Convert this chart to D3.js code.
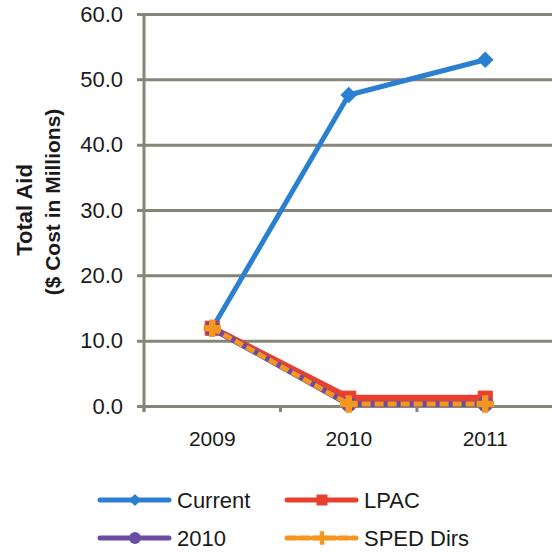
<!DOCTYPE html>
<html>
<head>
<meta charset="utf-8">
<script src="https://cdn.jsdelivr.net/npm/d3@7"></script>
<style>
  body { margin: 0; background: #fff; }
  text { font-family: "Liberation Sans", Arial, sans-serif; fill: #1a1a1a; }
</style>
</head>
<body>
<div id="chart"></div>
<script>
var years = ["2009", "2010", "2011"];
var seriesNames = ["Current", "LPAC", "2010", "SPED Dirs"];
var currentVals = [11.9, 47.6, 53.0];
var lpacVals = [11.9, 1.2, 1.2];
var y2010Vals = [11.9, 0.3, 0.3];
var spedVals = [11.9, 0.3, 0.3];
var yTicks = [0, 10, 20, 30, 40, 50, 60];

var width = 552, height = 552;
var margin = { top: 14, left: 144, bottom: 146 };

var svg = d3.select('#chart')
  .append('svg')
    .attr('width', width)
    .attr('height', height);

var x = d3.scaleBand()
  .domain(years)
  .range([margin.left, 553.5]);

var y = d3.scaleLinear()
  .domain([0, 60])
  .range([height - margin.bottom, margin.top]);

var gridColor = "#85857a";

// gridlines + y ticks
var yAxis = d3.axisLeft(y)
  .tickValues(yTicks)
  .tickSize(-(width - margin.left + 10))
  .tickFormat(d3.format(".1f"));

var gy = svg.append('g')
  .attr('transform', 'translate(' + margin.left + ',0)')
  .call(yAxis);
gy.select('.domain').remove();
gy.selectAll('.tick line')
  .attr('x1', -7)
  .attr('stroke', gridColor)
  .attr('stroke-width', 3);
gy.selectAll('.tick text')
  .style('font-size', '22px')
  .attr('x', -21);

// y axis line
svg.append('line')
  .attr('x1', margin.left).attr('x2', margin.left)
  .attr('y1', y(60)).attr('y2', y(0) + 5)
  .attr('stroke', gridColor)
  .attr('stroke-width', 3);

// x axis
var xAxis = d3.axisBottom(x).tickSize(0).tickPadding(25);
var gx = svg.append('g')
  .attr('transform', 'translate(0,' + y(0) + ')')
  .call(xAxis);
gx.select('.domain').remove();
gx.selectAll('.tick text').style('font-size', '21px');

// category boundary ticks
var bounds = years.map(function(d) { return x(d); }).concat([x(years[2]) + x.bandwidth()]);
svg.selectAll('.xtick')
  .data(bounds)
  .enter().append('line')
    .attr('class', 'xtick')
    .attr('x1', function(d) { return d; })
    .attr('x2', function(d) { return d; })
    .attr('y1', y(0))
    .attr('y2', y(0) + 6)
    .attr('stroke', gridColor)
    .attr('stroke-width', 3);

// y title
svg.append('text')
  .attr('transform', 'translate(32,' + 210 + ')rotate(-90)')
  .style('text-anchor', 'middle')
  .style('font-size', '22px')
  .style('font-weight', 'bold')
  .text('Total Aid');
svg.append('text')
  .attr('transform', 'translate(60,' + 202 + ')rotate(-90)')
  .style('text-anchor', 'middle')
  .style('font-size', '21px')
  .style('font-weight', 'bold')
  .text('($ Cost in Millions)');

var cx = function(i) { return x(years[i]) + x.bandwidth() / 2; };
var line = d3.line()
  .x(function(d, i) { return cx(i); })
  .y(function(d) { return y(d); });

var series = [
  { name: "LPAC", vals: lpacVals, color: "#e8402f", width: 7, dash: null, marker: "square" },
  { name: "2010", vals: y2010Vals, color: "#6a4da3", width: 6, dash: null, marker: "circle" },
  { name: "SPED Dirs", vals: spedVals, color: "#f7961e", width: 5, dash: "9,4", marker: "star" },
  { name: "Current", vals: currentVals, color: "#2a7fd0", width: 5, dash: null, marker: "diamond" }
];

// diamond drawn as a rotated square
var symbolFor = { square: d3.symbolSquare, circle: d3.symbolCircle, diamond: d3.symbolSquare, star: d3.symbolCross };
var rotFor = { square: 0, circle: 0, diamond: 45, star: 0 };
var sizeFor = { square: 200, circle: 180, diamond: 115, star: 150 };
var legendSize = { square: 120, circle: 110, diamond: 75, star: 100 };

// draw current first so lower series sit over its start
var order = [series[3], series[0], series[1], series[2]];
order.forEach(function(s) {
  svg.append('path')
    .datum(s.vals)
    .attr('d', line)
    .attr('fill', 'none')
    .attr('stroke', s.color)
    .attr('stroke-width', s.width)
    .attr('stroke-linejoin', 'round')
    .attr('stroke-dasharray', s.dash);
  svg.selectAll(null)
    .data(s.vals)
    .enter().append('path')
      .attr('d', d3.symbol().type(symbolFor[s.marker]).size(sizeFor[s.marker]))
      .attr('transform', function(d, i) { return 'translate(' + cx(i) + ',' + y(d) + ')rotate(' + rotFor[s.marker] + ')'; })
      .attr('fill', s.color)
      .attr('stroke', s.color)
      .attr('stroke-width', 1);
});

// legend
var legendItems = [
  { s: series[3], lx: 100, ly: 500 },
  { s: series[0], lx: 287, ly: 500 },
  { s: series[1], lx: 100, ly: 538 },
  { s: series[2], lx: 287, ly: 538 }
];
legendItems.forEach(function(l) {
  var g = svg.append('g');
  g.append('line')
    .attr('x1', l.lx).attr('x2', l.lx + 69)
    .attr('y1', l.ly).attr('y2', l.ly)
    .attr('stroke', l.s.color)
    .attr('stroke-width', 5)
    .attr('stroke-linecap', 'round')
    .attr('stroke-dasharray', l.s.dash);
  g.append('path')
    .attr('d', d3.symbol().type(symbolFor[l.s.marker]).size(legendSize[l.s.marker]))
    .attr('transform', 'translate(' + (l.lx + 35) + ',' + l.ly + ')rotate(' + rotFor[l.s.marker] + ')')
    .attr('fill', l.s.color);
  g.append('text')
    .attr('x', l.lx + 77)
    .attr('y', l.ly + 8)
    .style('font-size', '22px')
    .text(l.s.name);
});
</script>
</body>
</html>
